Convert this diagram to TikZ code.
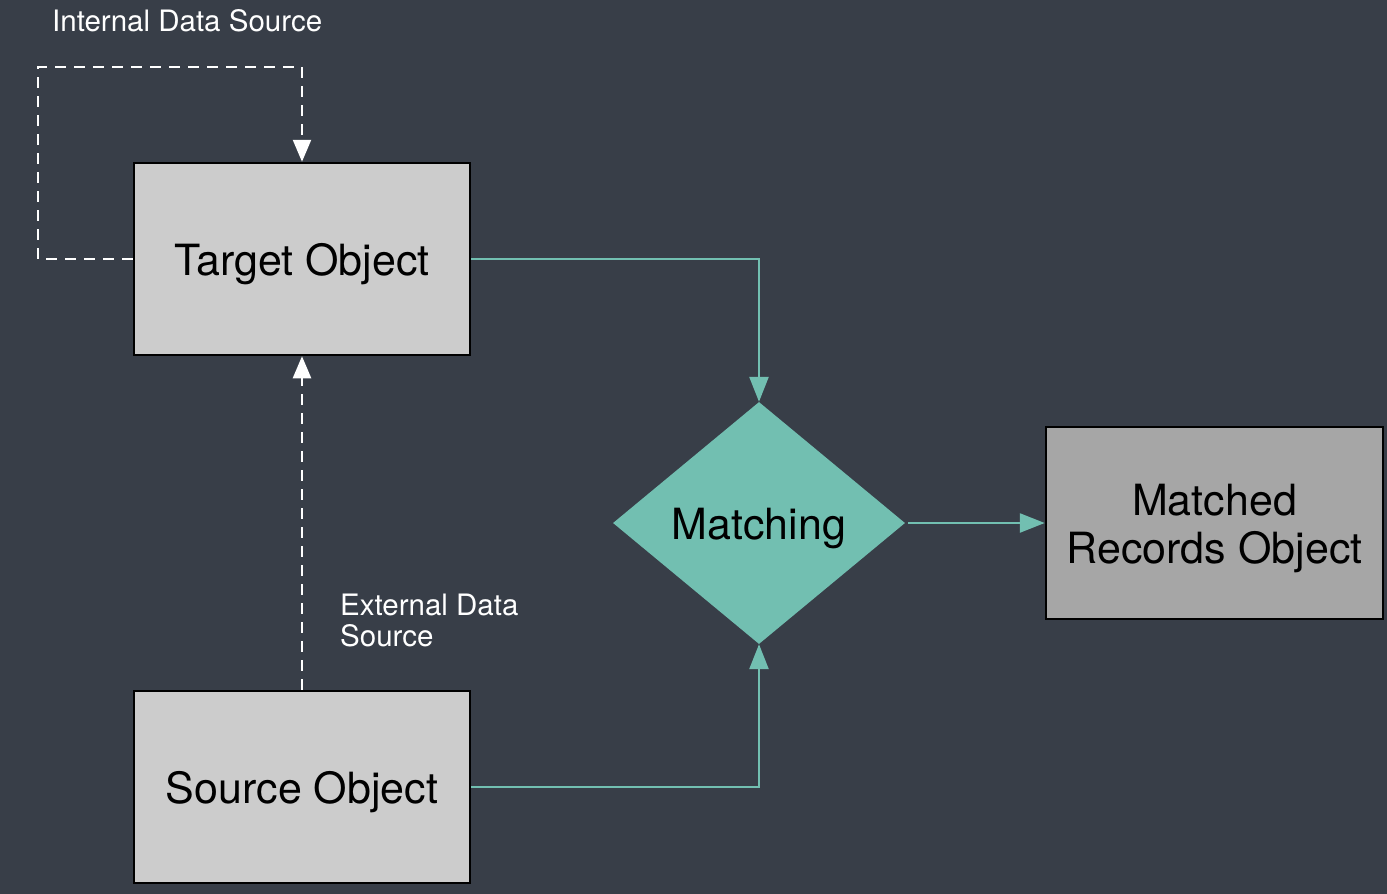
\documentclass[tikz,border=0pt]{standalone}
\usepackage{fontspec}
\setmainfont{TeX Gyre Heros}
\usetikzlibrary{shapes.geometric,arrows.meta}
\definecolor{bgc}{HTML}{383E48}
\definecolor{teal}{HTML}{72BFB1}
\definecolor{boxa}{HTML}{CCCCCC}
\definecolor{boxb}{HTML}{A6A6A6}
\tikzset{
  objbox/.style={draw=black, line width=2.5pt, minimum width=336pt, minimum height=192pt, inner sep=0pt, align=center, font=\fontsize{43}{48}\selectfont, text=black},
  tealline/.style={draw=teal, line width=2.5pt, -{Triangle[length=25pt,width=19pt]}},
  wdash/.style={draw=white, line width=2.5pt, dash pattern=on 11pt off 8pt, -{Triangle[length=22pt,width=18pt]}},
  small/.style={text=white, font=\fontsize{29.5}{31}\selectfont, inner sep=0pt, align=left}
}
\begin{document}
\begin{tikzpicture}[x=1pt,y=-1pt]
\fill[bgc] (0,0) rectangle (1387,894);
\useasboundingbox (0,0) rectangle (1387,894);
\node[objbox, fill=boxa, text height=32pt, text depth=0pt] (t) at (302,259) {Target Object};
\node[objbox, fill=boxa, text height=32pt, text depth=0pt] (s) at (302,787) {Source Object};
\node[objbox, fill=boxb, minimum width=337pt, text height=89pt, text depth=9pt] (r) at (1214.5,523) {Matched\\Records Object};
\node[diamond, fill=teal, aspect=1.207, minimum width=292pt, minimum height=242pt, inner sep=0pt, font=\fontsize{43}{48}\selectfont, text=black, text height=32pt, text depth=0pt] (m) at (759,523) {Matching};
\coordinate (l2) at (38,67);
\draw[wdash] (t.west) -| (l2) -| (t.north);
\draw[wdash] (s.north) -- (t.south);
\draw[tealline] (t.east) -| (m.north);
\draw[tealline] (s.east) -| (m.south);
\draw[tealline, shorten <=3pt] (m.east) -- (r.west);
\node[small, anchor=west] (il) at (52,21) {Internal Data Source};
\node[small, anchor=north west] (el) at (340,594) {External Data\\Source};
\end{tikzpicture}
\end{document}
